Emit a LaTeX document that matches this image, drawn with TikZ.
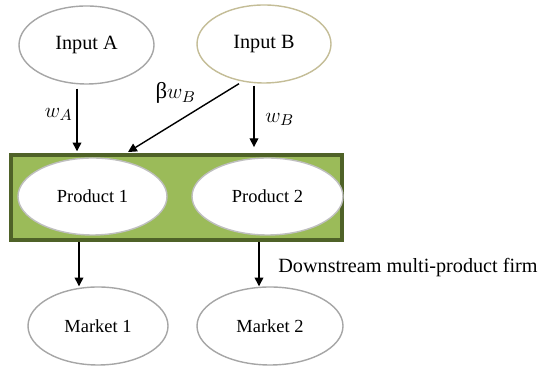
\documentclass[tikz,border=0pt]{standalone}
\usepackage{fontspec}
\setmainfont{Liberation Serif}
\usepackage{tkz-euclide}
\usetikzlibrary{arrows.meta,shapes.geometric}
\definecolor{firmgreen}{HTML}{9BBB59}
\definecolor{firmedge}{HTML}{4F6228}
\definecolor{inputgray}{HTML}{A6A6A6}
\definecolor{inputtan}{HTML}{C4BD97}
\definecolor{prodgray}{HTML}{BFBFBF}

\begin{document}
\begin{tikzpicture}[
    bubble/.style={ellipse,draw=inputgray,line width=0.8pt,fill=white,
        inner sep=0pt,font=\fontsize{11.5}{13}\selectfont},
    small/.style={font=\fontsize{10.5}{12}\selectfont},
    flow/.style={-{Triangle[length=5pt,width=5pt]},line width=0.8pt},
    lbl/.style={font=\fontsize{11.5}{13}\selectfont,inner sep=2pt},
    price/.style={font=\fontsize{13}{15}\selectfont,inner sep=2pt}
    ]
\useasboundingbox (0,0) rectangle (10.94,7.34);
\tkzDefPoints{1.73/6.44/IA,5.28/6.46/IB,3.53/3.39/F}
\tkzDefPoints{1.85/3.41/P1,5.35/3.41/P2,1.96/0.82/M1,5.40/0.82/M2}
% inputs
\node[bubble,minimum width=2.70cm,minimum height=1.56cm] (inA) at (IA) {Input A};
\node[bubble,draw=inputtan,minimum width=2.68cm,minimum height=1.56cm] (inB) at (IB) {Input B};
% the firm and its two products
\node[draw=firmedge,line width=2.5pt,fill=firmgreen,
      minimum width=6.61cm,minimum height=1.69cm] (firm) at (F) {};
\node[bubble,small,draw=prodgray,minimum width=2.98cm,minimum height=1.54cm] (pr1) at (P1) {Product 1};
\node[bubble,small,draw=prodgray,minimum width=3.02cm,minimum height=1.54cm] (pr2) at (P2) {Product 2};
% markets
\node[bubble,small,minimum width=2.80cm,minimum height=1.56cm] (mk1) at (M1) {Market 1};
\node[bubble,small,minimum width=2.92cm,minimum height=1.56cm] (mk2) at (M2) {Market 2};
\node[lbl,anchor=west] (down) at (5.49,1.98) {Downstream multi-product firm};
% input prices
\draw[flow,shorten >=1pt] ([xshift=-0.19cm,yshift=-0.08cm]inA.south) coordinate (wa)
    -- (wa |- firm.north) node[price,pos=0.4,left] (lblA) {$w_A$};
\draw[flow] ([xshift=-0.50cm]inB.south)
    -- ([xshift=-0.97cm,yshift=0.02cm]firm.north) node[price,pos=0.35,above left] (lblbeta) {β$w_B$};
\draw[flow,shorten >=3.4pt] ([xshift=-0.20cm,yshift=-0.04cm]inB.south) coordinate (wb)
    -- (wb |- firm.north) node[price,midway,right=4pt] (lblB) {$w_B$};
% sales to the markets
\foreach \p/\m/\s in {pr1/mk1/-0.27,pr2/mk2/-0.17}
    \draw[flow] ([xshift=\s cm]\p.south |- firm.south) coordinate (d)
        -- (d |- \m.north);
\end{tikzpicture}
\end{document}
